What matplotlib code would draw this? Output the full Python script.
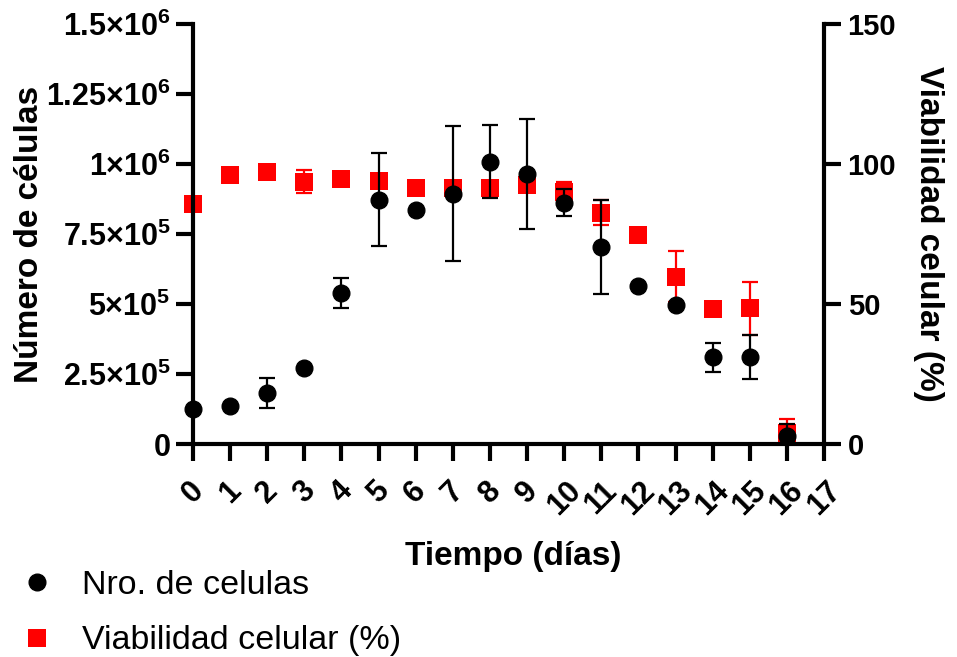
import matplotlib
matplotlib.use('Agg')
from matplotlib import pyplot as plt
from matplotlib.lines import Line2D

plt.rcParams['font.family'] = ['Liberation Sans', 'DejaVu Sans']
plt.rcParams['font.weight'] = 'bold'
plt.rcParams['mathtext.default'] = 'regular'

# datos
dias = [0, 1, 2, 3, 4, 5, 6, 7, 8, 9, 10, 11, 12, 13, 14, 15, 16]
celulas = [125000, 137000, 182000, 272000, 540000, 873000, 837000, 894000, 1008000,
           963000, 861000, 703000, 566000, 495000, 309000, 311000, 28000]
celulas_sd = [0, 0, 52000, 0, 53000, 165000, 0, 240000, 130000,
              196000, 48000, 169000, 0, 0, 51000, 80000, 42000]
viabilidad = [85.7, 96.2, 97.1, 93.7, 94.8, 93.9, 91.3, 91.3, 91.3,
              92.5, 90.1, 82.6, 74.6, 59.8, 48.1, 48.5, 3.8]
viabilidad_sd = [0, 0, 0, 4.0, 0, 0, 0, 0, 0, 0, 3.5, 4.5, 0, 9.0, 0, 9.5, 5.0]

yticks_izq = [0, 250000, 500000, 750000, 1000000, 1250000, 1500000]
yticklabels_izq = ['0', r'$2.5{\times}10^{5}$', r'$5{\times}10^{5}$', r'$7.5{\times}10^{5}$',
                   r'$1{\times}10^{6}$', r'$1.25{\times}10^{6}$', r'$1.5{\times}10^{6}$']
yticks_der = [0, 50, 100, 150]

fig = plt.figure(figsize=(9.57, 6.57), dpi=100)
ax = fig.add_axes([193/957, 1 - 444/657, 631/957, 420/657])
ax2 = ax.twinx()

# barras de error recortadas en el eje, marcadores encima
ax2.errorbar(dias, viabilidad, yerr=viabilidad_sd, fmt='none', ecolor='#ff0000',
             elinewidth=1.6, capsize=6, capthick=1.6, zorder=2)
ax2.plot(dias, viabilidad, 's', color='#ff0000', ms=12.5, mew=0, clip_on=False, zorder=3)
ax.errorbar(dias, celulas, yerr=celulas_sd, fmt='none', ecolor='black',
            elinewidth=1.6, capsize=6, capthick=1.6, zorder=2)
ax.plot(dias, celulas, 'o', color='black', ms=12, clip_on=False, zorder=3)
ax.set_zorder(ax2.get_zorder() + 1)
ax.patch.set_visible(False)

ax.set_xlim(0, 17)
ax.set_ylim(0, 1500000)
ax2.set_ylim(0, 150)
ax.set_xticks(range(0, 18))
ax.set_yticks(yticks_izq)
ax.set_yticklabels(yticklabels_izq)
ax2.set_yticks(yticks_der)

for a in (ax, ax2):
    a.spines['top'].set_visible(False)
    for s in a.spines.values():
        s.set_linewidth(3)
    a.tick_params(width=3, length=12, labelsize=21)
ax2.spines['left'].set_visible(False)
ax2.spines['bottom'].set_visible(False)
ax.spines['right'].set_visible(False)
ax.tick_params(axis='y', pad=4, labelsize=22)
ax.tick_params(axis='x', pad=11, labelsize=22)
ax2.tick_params(axis='y', pad=5)
plt.setp(ax.get_xticklabels(), rotation=45, ha='center')

ax.set_ylabel('Número de células', fontsize=24, fontweight='bold')
ax.yaxis.label.set_va('center')
ax.yaxis.set_label_coords((30 - 193) / 631, 0.5)
ax2.set_ylabel('Viabilidad celular (%)', fontsize=24, fontweight='bold', rotation=270)
ax2.yaxis.label.set_va('center')
ax2.yaxis.set_label_coords((928 - 193) / 631, 0.5)
ax.set_xlabel('Tiempo (días)', fontsize=24, fontweight='bold')
ax.xaxis.label.set_va('center')
ax.xaxis.set_label_coords((513 - 193) / 631, (444 - 556) / 420)

handles = [Line2D([], [], ls='none', marker='o', color='black', ms=12),
           Line2D([], [], ls='none', marker='s', color='#ff0000', ms=12.5, mew=0)]
fig.legend(handles, ['Nro. de celulas', 'Viabilidad celular (%)'], loc='upper left',
           bbox_to_anchor=(12/957, 1 - 570/657), frameon=False, borderpad=0,
           borderaxespad=0, handlelength=1.45, handletextpad=0.62, labelspacing=0.72,
           prop={'size': 24.5, 'weight': 'normal'})

fig.savefig('out.png', dpi=100)
